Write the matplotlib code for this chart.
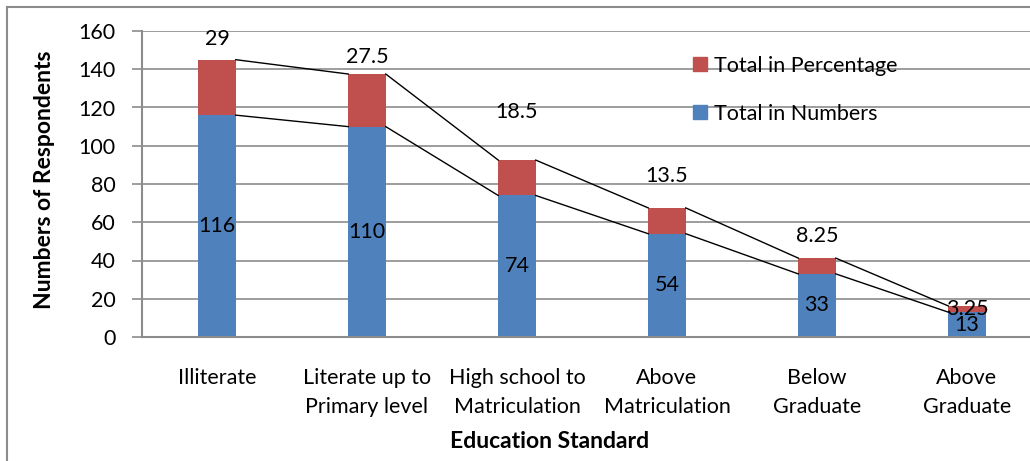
import matplotlib
matplotlib.use("Agg")
import matplotlib.pyplot as plt
from matplotlib.lines import Line2D
from matplotlib.patches import Patch

plt.rcParams['font.family'] = ['Lato', 'DejaVu Sans']

categories = ['Illiterate', 'Literate up to\nPrimary level', 'High school to\nMatriculation',
              'Above\nMatriculation', 'Below\nGraduate', 'Above\nGraduate']
total_numbers = [116, 110, 74, 54, 33, 13]
total_percentage = [29, 27.5, 18.5, 13.5, 8.25, 3.25]
# where the percentage labels sit (y in data units)
pct_label_y = [156, 146.5, 117.5, 84, 53, 14.5]

blue = '#4F81BD'
red = '#C0504D'
grid_gray = '#8C8C8C'
width = 0.25
fs = 15.5

fig = plt.figure(figsize=(10.30, 4.61), dpi=100)
ax = fig.add_axes([142 / 1030, 124 / 461, 900 / 1030, 306 / 461])

x = list(range(len(categories)))
ax.bar(x, total_numbers, width=width, color=blue, zorder=2)
ax.bar(x, total_percentage, width=width, bottom=total_numbers, color=red, zorder=2)

# series lines between neighbouring bars
tops = [n + p for n, p in zip(total_numbers, total_percentage)]
for i in range(len(x) - 1):
    for series in (total_numbers, tops):
        ax.plot([x[i] + width / 2, x[i + 1] - width / 2], [series[i], series[i + 1]],
                color='black', lw=1.0, zorder=3)

for i in x:
    ax.text(i, total_numbers[i] / 2, f'{total_numbers[i]:g}', ha='center', va='center',
            fontsize=fs, zorder=4)
    ax.text(i, pct_label_y[i], f'{total_percentage[i]:g}', ha='center', va='center',
            fontsize=fs, zorder=4)

ax.set_xlim(-0.5, len(categories) - 0.5)
ax.set_ylim(0, 160)
ax.set_yticks(range(0, 161, 20))
ax.set_xticks(x)
ax.set_xticklabels(categories, fontsize=fs, linespacing=1.6)
ax.tick_params(axis='x', length=0, pad=22)
ax.tick_params(axis='y', length=7, width=1.2, color=grid_gray, pad=12, labelsize=fs)
ax.yaxis.grid(True, color=grid_gray, lw=1.2, zorder=0)
ax.set_axisbelow(True)
for side in ('top', 'right'):
    ax.spines[side].set_visible(False)
for side in ('left', 'bottom'):
    ax.spines[side].set_color(grid_gray)
    ax.spines[side].set_linewidth(1.5)

fig.text(45 / 1030, 1 - 180 / 461, 'Numbers of Respondents', rotation=90,
         ha='center', va='center', fontsize=16.5, fontweight='bold')
fig.text(550 / 1030, 1 - 441 / 461, 'Education Standard',
         ha='center', va='center', fontsize=16.5, fontweight='bold')

handles = [Patch(color=red), Patch(color=blue)]
fig.legend(handles, ['Total in Percentage', 'Total in Numbers'],
           loc='upper left', bbox_to_anchor=(684 / 1030, 1 - 47 / 461),
           frameon=False, fontsize=fs, handlelength=0.65, handleheight=0.65,
           handletextpad=0.35, labelspacing=1.3, borderaxespad=0)

# outer chart border
fig.add_artist(Line2D([7 / 1030, 7 / 1030], [0, 1 - 7 / 461], color=grid_gray, lw=1.5))
fig.add_artist(Line2D([7 / 1030, 1], [1 - 7 / 461, 1 - 7 / 461], color=grid_gray, lw=1.5))

fig.savefig('out.png', dpi=100)
